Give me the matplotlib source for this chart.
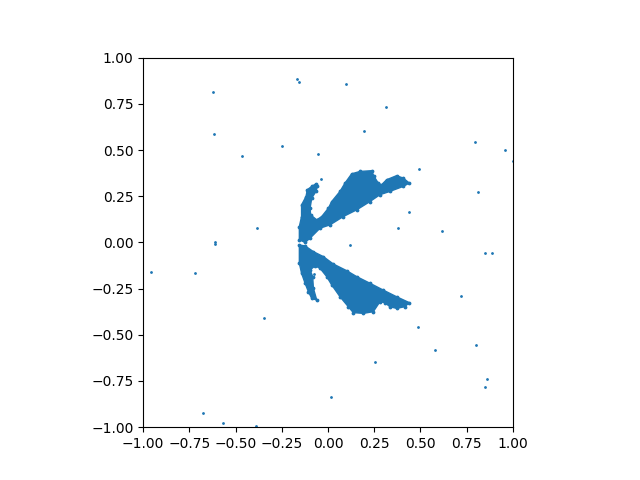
import matplotlib
matplotlib.use("Agg")
from matplotlib import pyplot as plt

# isolated points
far_x = [-0.62, -0.17, -0.155, 0.10, 0.315, -0.615, 0.195, 0.795, -0.465, -0.25,
         -0.055, 0.96, 1.0, 0.495, -0.04, 0.81, 0.44, 0.38, 0.615, -0.385,
         0.12, -0.61, -0.61, 0.85, 0.89, -0.96, -0.72, -0.075, 0.72, -0.345,
         0.485, 0.58, 0.80, 0.255, 0.86, 0.85, 0.015, -0.675, -0.57, -0.39]
far_y = [0.815, 0.885, 0.87, 0.855, 0.73, 0.585, 0.605, 0.545, 0.47, 0.52,
         0.48, 0.50, 0.44, 0.395, 0.345, 0.275, 0.165, 0.08, 0.06, 0.08,
         -0.015, 0.0, -0.01, -0.06, -0.055, -0.16, -0.165, -0.17, -0.29, -0.41,
         -0.46, -0.58, -0.555, -0.645, -0.74, -0.78, -0.835, -0.925, -0.975, -0.995]

# the points in the two wings overlap too much to read one by one: edge of each mass
upper_x = [-0.155, -0.155, -0.143, -0.143, -0.119, -0.112, -0.088, -0.065, -0.058, -0.065,
           -0.088, -0.097, -0.094, -0.061, -0.034, 0.002, 0.020, 0.065, 0.092, 0.128,
           0.173, 0.236, 0.249, 0.272, 0.290, 0.317, 0.371, 0.407, 0.440, 0.407,
           0.335, 0.281, 0.227, 0.155, 0.083, 0.011, -0.043, -0.097, -0.124]
upper_y = [0.014, 0.086, 0.140, 0.203, 0.248, 0.285, 0.303, 0.317, 0.303, 0.276,
           0.240, 0.185, 0.149, 0.122, 0.140, 0.185, 0.221, 0.276, 0.321, 0.371,
           0.384, 0.388, 0.357, 0.321, 0.312, 0.339, 0.361, 0.348, 0.321, 0.303,
           0.276, 0.258, 0.221, 0.176, 0.140, 0.095, 0.077, 0.023, 0.0]

lower_x = [-0.155, -0.124, -0.079, -0.025, 0.029, 0.101, 0.155, 0.227, 0.299, 0.371,
           0.440, 0.416, 0.371, 0.335, 0.308, 0.281, 0.245, 0.191, 0.137, 0.110,
           0.065, 0.020, -0.007, -0.043, -0.070, -0.097, -0.083, -0.079, -0.061, -0.088,
           -0.106, -0.124, -0.143, -0.155]
lower_y = [-0.014, -0.019, -0.050, -0.077, -0.117, -0.153, -0.185, -0.221, -0.258, -0.294,
           -0.326, -0.348, -0.357, -0.348, -0.326, -0.321, -0.375, -0.384, -0.380, -0.348,
           -0.294, -0.230, -0.185, -0.140, -0.127, -0.149, -0.185, -0.248, -0.312, -0.303,
           -0.267, -0.221, -0.167, -0.113]

fig, ax = plt.subplots()
ax.fill(upper_x, upper_y, color="C0", linewidth=1)
ax.fill(lower_x, lower_y, color="C0", linewidth=1)
ax.scatter(upper_x, upper_y, s=3, color="C0")
ax.scatter(lower_x, lower_y, s=3, color="C0")
ax.scatter(far_x, far_y, s=1, color="C0")
ax.set_xlim(-1, 1)
ax.set_ylim(-1, 1)
ax.set_aspect("equal")
fig.savefig("out.png")
